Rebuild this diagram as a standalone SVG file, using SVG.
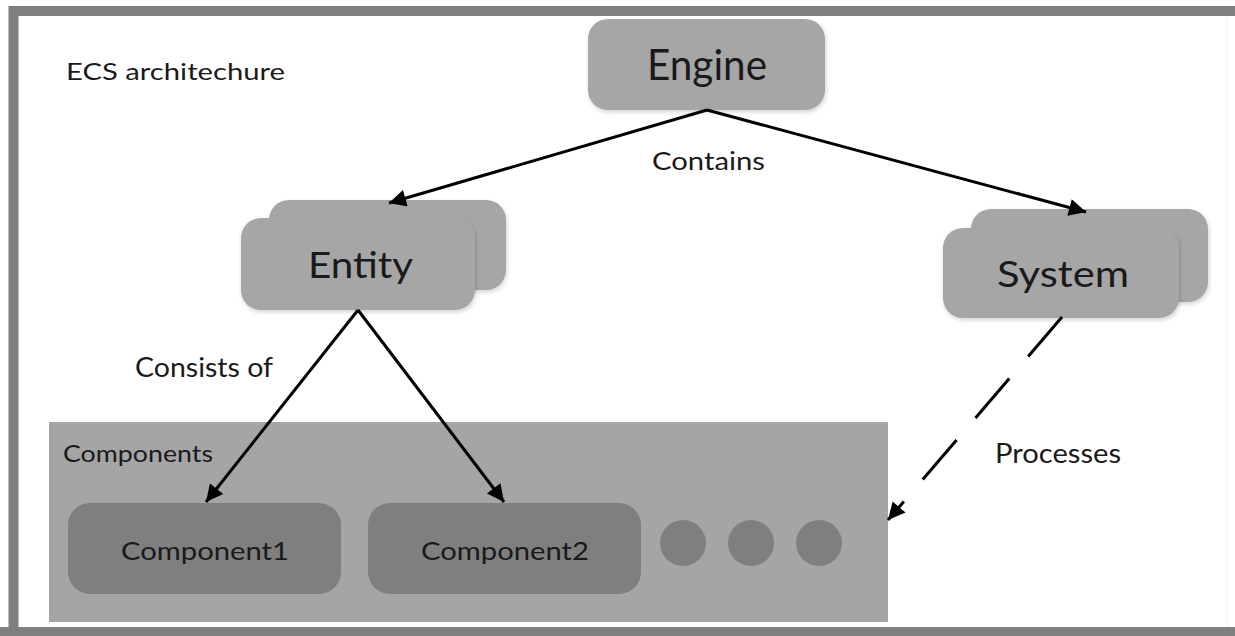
<svg xmlns="http://www.w3.org/2000/svg" width="1235" height="636" viewBox="0 0 1235 636">
  <defs>
    <marker id="ah" viewBox="0 0 10 10" refX="10" refY="5" markerUnits="userSpaceOnUse" markerWidth="24" markerHeight="17" orient="auto">
      <path d="M0,0 L10,5 L0,10 z" fill="#000"/>
    </marker>
    <filter id="sh" x="-10%" y="-10%" width="120%" height="130%">
      <feDropShadow dx="1" dy="2" stdDeviation="2" flood-color="#000" flood-opacity="0.18"/>
    </filter>
  </defs>
  <style>
    .t { font-family: Lato, "Open Sans", "Liberation Sans", sans-serif; fill: #1a1a1a; }
    .node { fill: #a6a6a6; filter: url(#sh); }
    .comp { fill: #7f7f7f; }
    .edge { stroke: #000; stroke-width: 3; fill: none; marker-end: url(#ah); }
  </style>
  <rect x="0" y="0" width="1235" height="636" fill="#ffffff"/>
  <g id="frame">
    <path d="M13.5,632 L13.5,11 L1240,11" fill="none" stroke="#7f7f7f" stroke-width="10"/>
    <rect x="0" y="627" width="1235" height="9" fill="#7f7f7f"/>
    <line x1="1227" y1="16" x2="1227" y2="627" stroke="#eeeeee" stroke-width="1"/>
  </g>
  <g id="title">
    <text class="t" x="66" y="80" font-size="24" textLength="219" lengthAdjust="spacingAndGlyphs">ECS architechure</text>
  </g>
  <g id="components-panel">
    <rect x="49" y="422" width="839" height="200" fill="#a5a5a5"/>
    <text class="t" x="63" y="462" font-size="24" textLength="150" lengthAdjust="spacingAndGlyphs">Components</text>
  </g>
  <g id="engine">
    <rect class="node" x="588" y="19" width="237" height="91" rx="20"/>
    <text class="t" x="647" y="80" font-size="42" textLength="120" lengthAdjust="spacingAndGlyphs">Engine</text>
  </g>
  <g id="entity">
    <rect class="node" x="269" y="200" width="237" height="90" rx="20"/>
    <rect class="node" x="241" y="218" width="234" height="92" rx="20"/>
    <text class="t" x="308" y="278" font-size="37" textLength="105" lengthAdjust="spacingAndGlyphs">Entity</text>
  </g>
  <g id="system">
    <rect class="node" x="971" y="209" width="237" height="93" rx="20"/>
    <rect class="node" x="943" y="228" width="236" height="90" rx="20"/>
    <text class="t" x="997" y="287" font-size="37" textLength="132" lengthAdjust="spacingAndGlyphs">System</text>
  </g>
  <g id="component1">
    <rect class="comp" x="68" y="503" width="273" height="91" rx="22"/>
    <text class="t" x="121" y="560" font-size="25" textLength="168" lengthAdjust="spacingAndGlyphs">Component1</text>
  </g>
  <g id="component2">
    <rect class="comp" x="368" y="503" width="273" height="91" rx="22"/>
    <text class="t" x="421" y="560" font-size="25" textLength="168" lengthAdjust="spacingAndGlyphs">Component2</text>
  </g>
  <g id="more">
    <circle class="comp" cx="683" cy="543" r="23"/>
    <circle class="comp" cx="751" cy="543" r="23"/>
    <circle class="comp" cx="819" cy="543" r="23"/>
  </g>
  <g id="connectors">
    <line class="edge" x1="707" y1="110" x2="389" y2="203"/>
    <line class="edge" x1="707" y1="110" x2="1086" y2="212"/>
    <line class="edge" x1="358" y1="310" x2="206" y2="502"/>
    <line class="edge" x1="358" y1="310" x2="504" y2="502"/>
    <line class="edge" x1="1062" y1="317" x2="888" y2="520" stroke-dasharray="52 29"/>
    <text class="t" x="652" y="170" font-size="25" textLength="113" lengthAdjust="spacingAndGlyphs">Contains</text>
    <text class="t" x="135" y="377" font-size="26" textLength="138" lengthAdjust="spacingAndGlyphs">Consists of</text>
    <text class="t" x="995" y="463" font-size="26" textLength="126" lengthAdjust="spacingAndGlyphs">Processes</text>
  </g>
</svg>
